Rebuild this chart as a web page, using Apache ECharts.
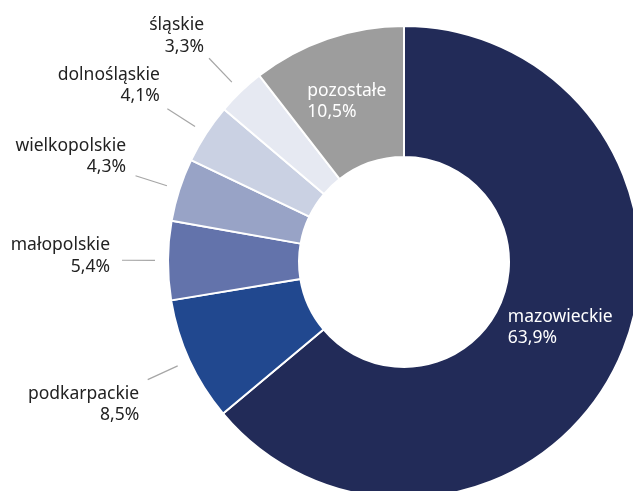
<!DOCTYPE html>
<html>
<head>
<meta charset="utf-8">
<script src="https://cdn.jsdelivr.net/npm/echarts@6/dist/echarts.min.js"></script>
<style>
html,body{margin:0;padding:0;background:#fff;}
#chart{width:633px;height:491px;}
</style>
</head>
<body>
<div id="chart"></div>
<script>
// ---- data ----
const regions = ['mazowieckie', 'podkarpackie', 'małopolskie', 'wielkopolskie', 'dolnośląskie', 'śląskie', 'pozostałe'];
const shares = [63.9, 8.5, 5.4, 4.3, 4.1, 3.3, 10.5];

// ---- styles ----
const colors = ['#222b58', '#21488f', '#6373ab', '#98a3c6', '#cad1e3', '#e6e9f2', '#9d9d9d'];
// inside labels with a small visual nudge
const insideStyle = {
  'mazowieckie': { offset: [-1, -8] },
  'pozostałe': { offset: [-1, 4] }
};
// per-label visual nudges for outside labels: vertical shift of text block vs. line end, gap to line
const outsideStyle = {
  'podkarpackie': { shift: 25, dist: 8.5 },
  'małopolskie': { shift: -4, dist: 12 },
  'wielkopolskie': { shift: -19, dist: 9.5 },
  'dolnośląskie': { shift: -23, dist: 7.5 },
  'śląskie': { shift: -22, dist: 5 }
};
const FONT = '"Noto Sans", "Open Sans", sans-serif';
const FS = 17.5;
const fmt = v => v.toFixed(1).replace('.', ',') + '%';

const chart = echarts.init(document.getElementById('chart'), null, { renderer: 'canvas' });

const visibleData = regions.map((name, i) => {
  const ins = insideStyle[name];
  return {
    name: name,
    value: shares[i],
    itemStyle: { color: colors[i] },
    label: ins ? {
      show: true,
      position: 'inside',
      offset: ins.offset,
      formatter: p => '{a|' + p.name + '}\n{a|' + fmt(p.value) + '}',
      rich: { a: { align: 'left', color: '#ffffff', fontSize: FS, fontFamily: FONT, lineHeight: 21 } }
    } : { show: false }
  };
});

const labelData = regions.map((name, i) => {
  const st = outsideStyle[name];
  return {
    name: name,
    value: shares[i],
    itemStyle: { color: 'rgba(0,0,0,0)', borderWidth: 0 },
    label: st ? { show: true, distanceToLabelLine: st.dist } : { show: false },
    labelLine: { show: !!st }
  };
});

chart.setOption({
  backgroundColor: '#ffffff',
  animation: false,
  series: [
    {
      type: 'pie',
      center: [404, 262],
      radius: [105, 236],
      startAngle: 90,
      clockwise: true,
      silent: true,
      avoidLabelOverlap: false,
      itemStyle: { borderColor: '#ffffff', borderWidth: 2 },
      emphasis: { disabled: true },
      data: visibleData
    },
    {
      type: 'pie',
      center: [404, 262],
      radius: [240, 249],
      startAngle: 90,
      clockwise: true,
      silent: true,
      avoidLabelOverlap: false,
      emphasis: { disabled: true },
      label: {
        position: 'outside',
        alignTo: 'none',
        color: '#222222',
        fontSize: FS,
        fontFamily: FONT,
        lineHeight: 21.5,
        formatter: p => p.name + '\n' + fmt(p.value)
      },
      labelLine: {
        length: 33,
        length2: 0,
        lineStyle: { color: '#a6a6a6', width: 1.2 }
      },
      labelLayout: function (params) {
        const st = outsideStyle[regions[params.dataIndex]];
        if (!st || !params.labelRect) return {};
        const r = params.labelRect;
        return {
          y: r.y + r.height / 2 + st.shift,
          verticalAlign: 'middle',
          labelLinePoints: params.labelLinePoints
        };
      },
      data: labelData
    }
  ]
});
</script>
</body>
</html>
